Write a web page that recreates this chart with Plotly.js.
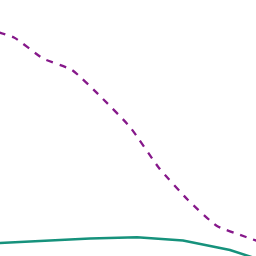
<!DOCTYPE html>
<html>
<head>
<meta charset="utf-8">
<script src="https://cdn.plot.ly/plotly-3.0.1.min.js"></script>
<style>html,body{margin:0;padding:0;background:#fff;}#chart{width:256px;height:256px;}</style>
</head>
<body>
<div id="chart"></div>
<script>
// Values
const purpleX = [-15, 14, 43, 72, 101, 130, 159, 188, 217, 246, 275];
const purpleY = [227.5, 218.5, 197.5, 186, 159, 129, 88, 56, 30, 19, 9];
const tealX = [-3, 43.5, 90, 137, 183, 230, 276];
const tealY = [12.8, 15, 17.5, 18.7, 15.5, 6, -9];

const traces = [
  {
    x: purpleX, y: purpleY, type: 'scatter', mode: 'lines',
    line: {color: '#86188a', width: 2.3, dash: '7px,7px', shape: 'spline', smoothing: 0.5},
    hoverinfo: 'skip'
  },
  {
    x: tealX, y: tealY, type: 'scatter', mode: 'lines',
    line: {color: '#16927c', width: 2.5},
    hoverinfo: 'skip'
  }
];

const layout = {
  width: 256, height: 256,
  margin: {l: 0, r: 0, t: 0, b: 0, pad: 0},
  paper_bgcolor: '#ffffff', plot_bgcolor: '#ffffff',
  showlegend: false,
  xaxis: {visible: false, range: [0, 256], fixedrange: true},
  yaxis: {visible: false, range: [0, 256], fixedrange: true}
};

Plotly.newPlot('chart', traces, layout, {staticPlot: true, displayModeBar: false});
</script>
</body>
</html>
